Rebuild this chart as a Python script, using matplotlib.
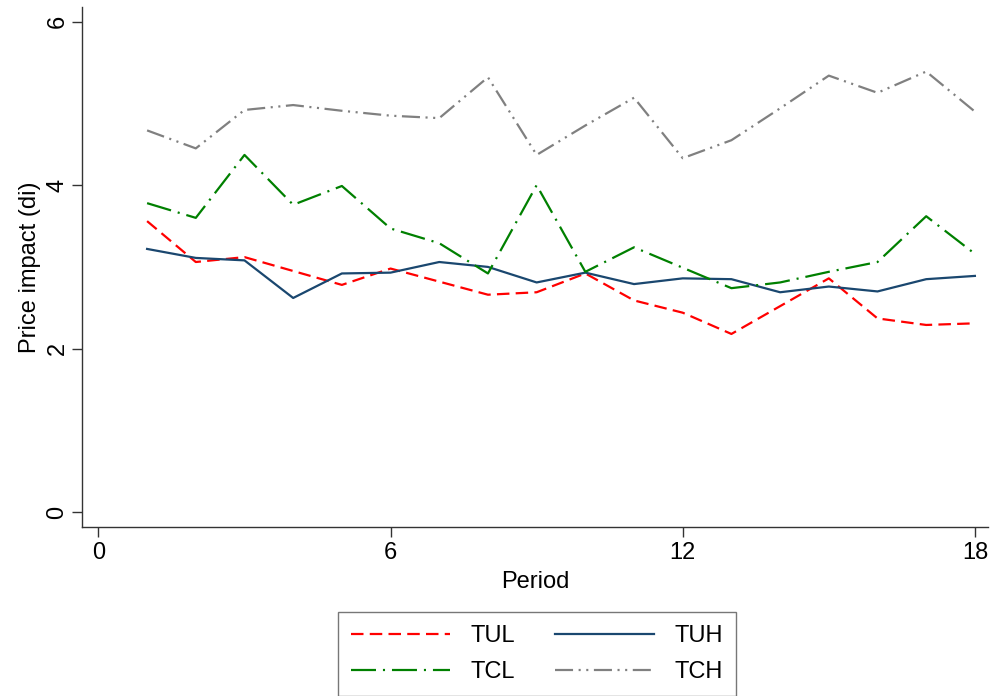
import matplotlib
matplotlib.use("Agg")
import matplotlib.pyplot as plt

plt.rcParams["font.family"] = ["Liberation Sans", "DejaVu Sans"]
plt.rcParams["lines.scale_dashes"] = False

periods = list(range(1, 19))
tul = [3.56, 3.06, 3.12, 2.95, 2.78, 2.98, 2.82, 2.66, 2.69,
       2.92, 2.59, 2.44, 2.18, 2.52, 2.86, 2.37, 2.29, 2.31]
tuh = [3.22, 3.11, 3.08, 2.62, 2.92, 2.93, 3.06, 3.00, 2.81,
       2.93, 2.79, 2.86, 2.85, 2.69, 2.76, 2.70, 2.85, 2.89]
tcl = [3.78, 3.60, 4.37, 3.76, 3.99, 3.47, 3.29, 2.92, 4.00,
       2.94, 3.24, 2.99, 2.74, 2.81, 2.94, 3.06, 3.62, 3.16]
tch = [4.67, 4.45, 4.92, 4.98, 4.91, 4.85, 4.82, 5.32, 4.37,
       4.73, 5.07, 4.33, 4.55, 4.94, 5.34, 5.13, 5.39, 4.90]

x_ticks = [0, 6, 12, 18]
y_ticks = [0, 2, 4, 6]

fig = plt.figure(figsize=(9.92, 6.96), dpi=100)
ax = fig.add_axes([0.083, 0.243, 0.913, 0.747])

lw = 1.6
ax.plot(periods, tul, color="#ff0000", lw=lw, dashes=(9, 4.5), label="TUL")
ax.plot(periods, tuh, color="#1a476f", lw=lw, label="TUH")
ax.plot(periods, tcl, color="#008000", lw=lw, dashes=(18, 5, 1.5, 5), label="TCL")
ax.plot(periods, tch, color="#808080", lw=lw,
        dashes=(13, 4, 1.5, 4, 1.5, 4), label="TCH")

ax.set_xlim(-0.33, 18.27)
ax.set_ylim(-0.18, 6.18)
ax.set_xticks(x_ticks)
ax.set_yticks(y_ticks)
for side in ("top", "right"):
    ax.spines[side].set_visible(False)
for side in ("left", "bottom"):
    ax.spines[side].set_color("#333333")
    ax.spines[side].set_linewidth(1.0)
ax.tick_params(length=7, width=1.0, color="#333333", labelsize=17, pad=4)
ax.tick_params(axis="y", pad=3)
for lab in ax.get_yticklabels():
    lab.set_rotation(90)
    lab.set_va("center")
ax.set_xlabel("Period", fontsize=17, labelpad=5)
ax.set_ylabel("Price impact (di)", fontsize=17, labelpad=4)

# two-column key below the plot, TUL/TCL on the left, TUH/TCH on the right
handles, labels = ax.get_legend_handles_labels()
order = [0, 2, 1, 3]
leg = fig.legend([handles[i] for i in order], [labels[i] for i in order],
                 ncol=2, loc="upper center", bbox_to_anchor=(0.541, 0.121),
                 borderaxespad=0, fontsize=17, frameon=True, fancybox=False,
                 handlelength=4.2, handletextpad=0.85, columnspacing=1.7,
                 labelspacing=0.6, borderpad=0.55)
leg.get_frame().set_edgecolor("#555555")
leg.get_frame().set_linewidth(1.0)

fig.savefig("out.png", dpi=100)
